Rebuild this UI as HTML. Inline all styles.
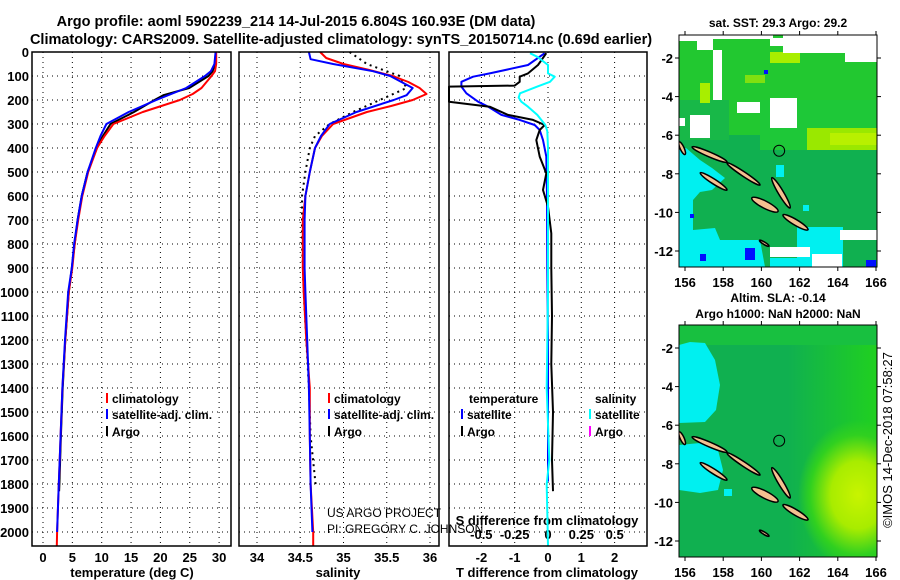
<!DOCTYPE html>
<html><head><meta charset="utf-8">
<style>
body{margin:0;background:#fff;}
svg{display:block;font-family:"Liberation Sans",Arial,sans-serif;}
.t{font-weight:bold;font-size:13px;fill:#000;}
.lg{font-weight:bold;font-size:12px;fill:#000;}
.cr{font-weight:normal;font-size:12px;fill:#000;}
</style></head>
<body>
<svg id="chart" width="900" height="580" viewBox="0 0 900 580">
<g>
<text x="296" y="26" text-anchor="middle" font-weight="bold" font-size="14.5">Argo profile: aoml 5902239_214 14-Jul-2015 6.804S 160.93E (DM data)</text>
<text x="341" y="44" text-anchor="middle" font-weight="bold" font-size="14.5">Climatology: CARS2009. Satellite-adjusted climatology: synTS_20150714.nc (0.69d earlier)</text>
</g>
<g id="panels"></g>
<g id="maps"></g>
<text x="892" y="440" transform="rotate(-90 892 440)" text-anchor="middle" font-size="13">©IMOS 14-Dec-2018 07:58:27</text>
</svg>
<script>
// ---- data ----
const tempClimDepth=[0,50,80,100,150,175,200,250,300,350,400,500,600,700,800,900,1000,1200,1400,1600,1800,2000,2058];
const tempClim=[29.5,29.5,29.3,28.7,27,25.5,23.3,17,12,10.5,9.2,7.7,6.7,6.0,5.4,5.0,4.4,3.8,3.3,3.0,2.7,2.4,2.35];
const tempSatDepth=[0,50,80,100,150,200,250,300,350,400,500,600,700,800,900,1000,1200,1400,1600,1800,2000];
const tempSat=[29.4,29.2,28.6,27.6,24.4,19.3,14.6,10.8,9.8,9.0,7.6,6.6,5.9,5.3,4.9,4.3,3.75,3.3,3.0,2.7,2.4];
const tempArgoDepth=[5,50,80,100,150,180,200,250,300,350,400,500,600,700,800,900,1000,1200,1400,1600,1800,1830];
const tempArgo=[29.4,29.3,28.9,28.2,24.9,20.5,19.0,15.5,11.5,10.2,9.2,7.6,6.6,5.9,5.4,4.9,4.4,3.8,3.35,3.05,2.8,2.75];

const salClimDepth=[0,25,50,75,100,125,150,175,200,225,250,300,350,400,500,600,700,900,1000,1200,1400,1600,1800,2000,2058];
const salClim=[34.73,34.8,35.0,35.3,35.57,35.75,35.88,35.96,35.8,35.55,35.27,34.88,34.75,34.67,34.61,34.56,34.53,34.53,34.54,34.57,34.61,34.61,34.62,34.65,34.65];
const salSatDepth=[0,30,50,80,100,150,180,200,250,300,350,400,500,600,700,900,1000,1200,1400,1600,1800,2000];
const salSat=[34.6,34.62,34.88,35.34,35.54,35.8,35.73,35.58,35.15,34.84,34.74,34.67,34.61,34.56,34.55,34.55,34.56,34.58,34.6,34.61,34.62,34.64];
const salArgoDepth=[0,50,100,150,200,250,300,350,400,500,600,800,1000,1200,1400,1600,1810];
const salArgo=[35.07,35.27,35.65,35.73,35.42,35.11,34.84,34.67,34.61,34.56,34.52,34.52,34.54,34.57,34.6,34.62,34.68];

const dTArgoDepth=[5,54,89,103,124,140,144,172,207,228,262,283,304,325,367,436,506,575,644,756,900,1100,1300,1500,1700,1830];
const dTArgo=[-0.05,-0.3,-0.6,-0.85,-0.85,-1.0,-3,-3,-3,-1.75,-1.2,-0.45,-0.1,-0.25,-0.35,-0.25,-0.05,-0.15,0,0.1,0.1,0.12,0.1,0.15,0.12,0.15];
const dTSatDepth=[5,54,89,103,124,144,172,207,228,262,283,304,325,367,436,600,900,1200,1500,1790];
const dTSat=[-0.1,-0.6,-1.75,-2.25,-2.6,-2.6,-2.45,-2.1,-1.8,-1.4,-0.85,-0.4,-0.25,-0.15,-0.05,-0.03,-0.02,0,0,0];
const dSSatDepth=[5,20,54,89,103,124,144,172,190,207,228,262,304,330,400,700,1000,1400,1700,1800,2058];
const dSSat=[-0.135,-0.08,0,0,0.05,0.015,-0.08,-0.21,-0.22,-0.2,-0.15,-0.08,-0.02,-0.005,0,0,0,-0.01,0.01,-0.01,0];

const depthTicks=[0,100,200,300,400,500,600,700,800,900,1000,1100,1200,1300,1400,1500,1600,1700,1800,1900,2000];
const tempTicks=[0,5,10,15,20,25,30];
const salTicks=[34,34.5,35,35.5,36];
const salTickLabels=['34','34.5','35','35.5','36'];
const dTTicks=[-2,-1,0,1,2];
const dSTicks=[-0.5,-0.25,0,0.25,0.5];
const dSTickLabels=['-0.5','-0.25','0','0.25','0.5'];
const lonTicks=[156,158,160,162,164,166];
const latTicks=[-2,-4,-6,-8,-10,-12];

// ---- axes ----
const TOP=52, BOT=546;
const yD=d=>TOP+d*0.24;
const xT=t=>43+t*5.87;
const xS=s=>257+(s-34)*86.5;
const xDT=v=>548+v*33.3;
const xDS=v=>548+v*133.3;
const NS='http://www.w3.org/2000/svg';
function mk(tag,attrs,parent){const e=document.createElementNS(NS,tag);for(const k in attrs)e.setAttribute(k,attrs[k]);parent.appendChild(e);return e;}
const P=document.getElementById('panels');

const panels=[{l:32,r:231,name:'temperature-panel'},{l:239,r:439,name:'salinity-panel'},{l:449,r:647,name:'difference-panel'}];
panels.forEach(p=>{
  const g=mk('g',{},P);
  
  
  p.g=g;
  depthTicks.forEach(d=>{const ln=mk('line',{x1:p.l,x2:p.r,y1:yD(d),y2:yD(d),stroke:'#000','stroke-width':1,'stroke-dasharray':'1,4'},g);
    
    });
});
function vgrid(p,xs){xs.forEach(x=>{const ln=mk('line',{x1:x,x2:x,y1:TOP,y2:BOT,stroke:'#000','stroke-width':1,'stroke-dasharray':'1,4'},p.g);
  
  });}
vgrid(panels[0],tempTicks.map(xT));
vgrid(panels[1],salTicks.map(xS));
vgrid(panels[2],dTTicks.map(xDT));

depthTicks.forEach(d=>{const t=mk('text',{x:29,y:yD(d)+5,'text-anchor':'end',class:'t'},P);t.textContent=d;
  
  });
function xlabels(vals,labels,fx,y,cls){vals.forEach((v,i)=>{const t=mk('text',{x:fx(v),y:y,'text-anchor':'middle',class:cls||'t'},P);t.textContent=labels[i];
  
  });}
xlabels(tempTicks,tempTicks.map(String),xT,562);
xlabels(salTicks,salTickLabels,xS,562);
xlabels(dTTicks,dTTicks.map(String),xDT,562);
xlabels(dSTicks,dSTickLabels,xDS,539);

function lab(x,y,s,name,cls,anchor){const t=mk('text',{x:x,y:y,'text-anchor':anchor||'middle',class:cls||'t'},P);t.textContent=s;
  
  return t;}
lab(132,577,'temperature (deg C)','temperature-axis-title');
lab(338,577,'salinity','salinity-axis-title');
lab(547,577,'T difference from climatology','t-difference-axis-title');
lab(547,525,'S difference from climatology','s-difference-axis-title');

function series(xs,ds,fx,color,name,dash,w){
  const d=xs.map((v,i)=>(i?'L':'M')+fx(v).toFixed(1)+' '+yD(ds[i]).toFixed(1)).join(' ');
  const a={d:d,fill:'none',stroke:color,'stroke-width':w||2,'stroke-linejoin':'round'};
  if(dash)a['stroke-dasharray']=dash;
  const pth=mk('path',a,P);
  
  
}
series(tempArgo,tempArgoDepth,xT,'#000','temp-argo-line');
series(tempClim,tempClimDepth,xT,'#f00','temp-climatology-line');
series(tempSat,tempSatDepth,xT,'#00f','temp-satellite-line');
series(salArgo,salArgoDepth,xS,'#000','salinity-argo-line','2,4');
series(salClim,salClimDepth,xS,'#f00','salinity-climatology-line');
series(salSat,salSatDepth,xS,'#00f','salinity-satellite-line');
series(dTSat,dTSatDepth,v=>Math.max(449,xDT(v)),'#00f','tdiff-satellite-line');
series(dTArgo,dTArgoDepth,v=>Math.max(449,xDT(v)),'#000','tdiff-argo-line');
series(dSSat,dSSatDepth,xDS,'#0ff','sdiff-satellite-line');

panels.forEach(p=>{const r=mk('rect',{x:p.l,y:TOP,width:p.r-p.l,height:BOT-TOP,fill:'none',stroke:'#000','stroke-width':1.5},P);
  
  });

function legend(x,y,color,text){const l=mk('line',{x1:x,x2:x,y1:y-10,y2:y,stroke:color,'stroke-width':2},P);
  
  
  lab(x+5,y,text,'legend-entry','lg','start');}
legend(107,403,'#f00','climatology');legend(107,419,'#00f','satellite-adj. clim.');legend(107,436,'#000','Argo');
legend(329,403,'#f00','climatology');legend(329,419,'#00f','satellite-adj. clim.');legend(329,436,'#000','Argo');
lab(469,403,'temperature','legend-title-temperature','lg','start');
legend(462,419,'#00f','satellite');legend(462,436,'#000','Argo');
lab(595,403,'salinity','legend-title-salinity','lg','start');
legend(590,419,'#0ff','satellite');legend(590,436,'#f0f','Argo');
lab(327,517,'US ARGO PROJECT','credit-project','cr','start');
lab(327,533,'PI: GREGORY C. JOHNSON','credit-pi','cr','start');

// ---- maps ----
const M=document.getElementById('maps');
const mx=lon=>685+(lon-156)*19.1;
const my=lat=>19.4+(-lat)*19.3;
function map(dy,name,titles,ty){
  const g=mk('g',{},M);
  
  
  titles.forEach((t,i)=>{const e=mk('text',{x:778,y:ty+i*16,'text-anchor':'middle',class:'lg'},g);e.textContent=t;
    
    });
  const top=35+dy;
  const cid='mc'+dy;const c=mk('clipPath',{id:cid},g);mk('rect',{x:679,y:top,width:198,height:232},c);
  const body=mk('g',{'clip-path':'url(#'+cid+')'},g);
  return {g,body,top};
}
function R(par,x,y,w,h,f){mk('rect',{x:x,y:y,width:w,height:h,fill:f},par);}
const m1=map(0,'sst-map',['sat. SST: 29.3 Argo: 29.2'],27);
let b=m1.body;
R(b,679,35,198,232,'#10b050');
R(b,679,35,198,100,'#22c830');
R(b,760,100,117,50,'#1ec838');
R(b,679,100,50,40,'#18b848');
R(b,807,128,70,22,'#9ae800');R(b,830,133,47,12,'#b8f000');
R(b,770,52,30,11,'#a8ee00');R(b,700,83,10,20,'#a8ee00');R(b,745,75,20,8,'#80e010');
R(b,679,35,18,6,'#fff');R(b,697,35,16,15,'#fff');R(b,713,50,9,50,'#fff');R(b,713,35,60,4,'#fff');
R(b,783,35,94,18,'#fff');R(b,770,38,14,8,'#fff');R(b,845,52,32,10,'#fff');
R(b,737,102,23,11,'#fff');R(b,770,98,27,30,'#fff');R(b,690,115,20,23,'#fff');R(b,679,118,6,8,'#fff');
mk('path',{d:'M679 150 L686 148 L700 160 L712 168 L725 178 L712 190 L700 192 L693 200 L693 230 L715 228 L720 240 L760 240 L765 267 L679 267 Z',fill:'#00f0f0'},b);
R(b,797,227,46,40,'#00f0f0');R(b,770,258,30,9,'#00f0f0');R(b,776,165,8,12,'#00f0f0');R(b,803,205,6,6,'#00f0f0');
R(b,770,247,40,10,'#fff');R(b,840,230,37,10,'#fff');R(b,812,254,30,13,'#fff');
R(b,745,248,10,12,'#0010ff');R(b,700,254,6,7,'#0010ff');R(b,866,260,10,7,'#0010ff');R(b,764,70,4,4,'#0010ff');R(b,690,214,4,4,'#0010ff');

const m2=map(290,'sla-map',['Altim. SLA: -0.14','Argo h1000: NaN h2000: NaN'],302);
b=m2.body;
const defs2=mk('defs',{},M);
const rg=mk('radialGradient',{id:'yg',cx:'0.5',cy:'0.5',r:'0.5'},defs2);
mk('stop',{offset:'0','stop-color':'#c8f400'},rg);mk('stop',{offset:'0.45','stop-color':'#a8ec00'},rg);mk('stop',{offset:'0.8','stop-color':'#30d020'},rg);mk('stop',{offset:'1','stop-color':'#30d020','stop-opacity':'0'},rg);
const lg=mk('linearGradient',{id:'gg',x1:'0',x2:'1',y1:'0',y2:'0'},defs2);
mk('stop',{offset:'0','stop-color':'#10b050'},lg);mk('stop',{offset:'0.55','stop-color':'#10b050'},lg);mk('stop',{offset:'1','stop-color':'#20d020'},lg);
R(b,679,325,198,232,'url(#gg)');
R(b,679,325,198,20,'#18c040');
mk('ellipse',{cx:858,cy:495,rx:60,ry:75,fill:'url(#yg)'},b);
mk('path',{d:'M679 345 L690 342 L705 343 L715 360 L720 385 L716 410 L705 422 L679 423 Z',fill:'#00f0f0'},b);
mk('path',{d:'M679 445 L700 443 L718 450 L723 470 L718 490 L700 493 L679 490 Z',fill:'#00f0f0'},b);
R(b,724,489,8,7,'#00f0f0');
const islands=[[155.7,-6.35,156.0,-7.0,2],[156.37,-6.61,158.2,-7.39,2.4],[158.2,-7.44,159.93,-8.58,2.2],
 [156.8,-7.95,158.2,-8.84,2.4],[159.5,-9.25,160.87,-9.95,3.6],[160.55,-8.2,161.5,-9.77,2.6],
 [161.13,-10.13,162.44,-10.9,2.8],[159.9,-11.45,160.4,-11.75,1.2]];
[m1,m2].forEach(m=>{
  const off=m.top-35;
  islands.forEach(s=>{
    const x1=mx(s[0]),y1=my(s[1])+off,x2=mx(s[2]),y2=my(s[3])+off;
    const cx=(x1+x2)/2,cy=(y1+y2)/2,len=Math.hypot(x2-x1,y2-y1)/2,ang=Math.atan2(y2-y1,x2-x1)*180/Math.PI;
    const e=mk('ellipse',{cx:cx,cy:cy,rx:len,ry:s[4],transform:'rotate('+ang.toFixed(1)+' '+cx+' '+cy+')',fill:'#f5c090',stroke:'#000','stroke-width':1.5},m.body);
    
    });
  const c=mk('circle',{cx:mx(160.93),cy:my(-6.804)+off,r:5.5,fill:'none',stroke:'#000','stroke-width':1},m.g);
  
  
  const fr=mk('rect',{x:679,y:m.top,width:198,height:232,fill:'none',stroke:'#000','stroke-width':1},m.g);
  
  
  lonTicks.forEach(l=>{mk('line',{x1:mx(l),x2:mx(l),y1:m.top-4,y2:m.top,stroke:'#000'},m.g);mk('line',{x1:mx(l),x2:mx(l),y1:m.top+232,y2:m.top+236,stroke:'#000'},m.g);
    const t=mk('text',{x:mx(l),y:m.top+252,'text-anchor':'middle',class:'t'},m.g);t.textContent=l;
    
    });
  latTicks.forEach(l=>{mk('line',{x1:675,x2:679,y1:my(l)+off,y2:my(l)+off,stroke:'#000'},m.g);mk('line',{x1:877,x2:881,y1:my(l)+off,y2:my(l)+off,stroke:'#000'},m.g);
    const t=mk('text',{x:673,y:my(l)+off+5,'text-anchor':'end',class:'t'},m.g);t.textContent=l;
    
    });
});
</script>
</body></html>
